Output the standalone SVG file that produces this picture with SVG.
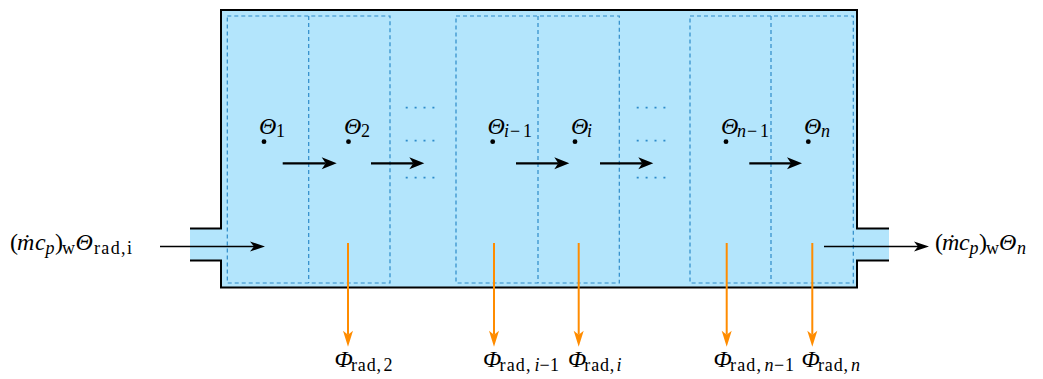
<svg xmlns="http://www.w3.org/2000/svg" width="1043" height="379" viewBox="0 0 1043 379">
<style>
.t{font-family:'Liberation Serif','DejaVu Serif',serif;font-size:24px;fill:#000}
.it{font-style:italic}
.s{font-size:18px}
.cell{fill:none;stroke:#2E8BC9;stroke-width:1.2;stroke-dasharray:4 3}
.dots{stroke:#2E8BC9;stroke-width:1.8;stroke-dasharray:2 6.9}
.flow{stroke:#000;stroke-width:2.2;fill:none}
.io{stroke:#000;stroke-width:1.5;fill:none}
.rad{stroke:#FF8C00;stroke-width:2;fill:none}
</style>
<defs>
<marker id="ab" markerUnits="userSpaceOnUse" markerWidth="20" markerHeight="14" refX="0" refY="0" orient="auto" overflow="visible"><path d="M-4,-6 L11,0 L-4,6 L0,0 Z" fill="#000"/></marker>
<marker id="ai" markerUnits="userSpaceOnUse" markerWidth="20" markerHeight="12" refX="0" refY="0" orient="auto" overflow="visible"><path d="M-4,-5 L11,0 L-4,5 L0,0 Z" fill="#000"/></marker>
<marker id="ao" markerUnits="userSpaceOnUse" markerWidth="20" markerHeight="12" refX="0" refY="0" orient="auto" overflow="visible"><path d="M-4,-5 L12,0 L-4,5 L0,0 Z" fill="#FF8C00"/></marker>
</defs>

<g id="tank">
<path d="M190,228.5 H221 V10 H857 V228.5 H889 V260.5 H857 V287.5 H221 V260.5 H190 Z" fill="#B3E5FC"/>
</g>

<g id="cells">
<rect class="cell" x="227.3" y="16" width="162.7" height="267"/>
<line class="cell" x1="308.7" y1="16" x2="308.7" y2="283"/>
<rect class="cell" x="456" y="16" width="163.3" height="267"/>
<line class="cell" x1="538" y1="16" x2="538" y2="283"/>
<rect class="cell" x="690" y="16" width="163.3" height="267"/>
<line class="cell" x1="771" y1="16" x2="771" y2="283"/>
</g>

<g id="ellipsis1">
<line class="dots" x1="405.7" y1="107.7" x2="434.5" y2="107.7"/>
<line class="dots" x1="405.7" y1="140.7" x2="434.5" y2="140.7"/>
<line class="dots" x1="405.7" y1="177.7" x2="434.5" y2="177.7"/>
</g>
<g id="ellipsis2">
<line class="dots" x1="636.7" y1="107.7" x2="665.5" y2="107.7"/>
<line class="dots" x1="636.7" y1="140.7" x2="665.5" y2="140.7"/>
<line class="dots" x1="636.7" y1="177.7" x2="665.5" y2="177.7"/>
</g>

<g id="outline">
<path d="M190,228.5 H221 V10 H857 V228.5 H889 M889,260.5 H857 V287.5 H221 V260.5 H190" fill="none" stroke="#000" stroke-width="2"/>
</g>

<g id="node1">
<circle cx="264" cy="141.7" r="2.4"/>
<text class="t"><tspan class="it" x="259" y="133.5">Θ</tspan><tspan class="s" x="276" y="137">1</tspan></text>
</g>
<g id="node2">
<circle cx="348.5" cy="141.7" r="2.4"/>
<text class="t"><tspan class="it" x="344" y="133.5">Θ</tspan><tspan class="s" x="361" y="137">2</tspan></text>
</g>
<g id="node-im1">
<circle cx="492.7" cy="141.7" r="2.4"/>
<text class="t"><tspan class="it" x="487.5" y="133.5">Θ</tspan><tspan class="s it" x="504" y="137">i</tspan><tspan class="s" x="510" y="137" textLength="22" lengthAdjust="spacing">−1</tspan></text>
</g>
<g id="node-i">
<circle cx="575" cy="141.7" r="2.4"/>
<text class="t"><tspan class="it" x="571" y="133.5">Θ</tspan><tspan class="s it" x="587" y="137">i</tspan></text>
</g>
<g id="node-nm1">
<circle cx="726" cy="141.7" r="2.4"/>
<text class="t"><tspan class="it" x="721" y="133.5">Θ</tspan><tspan class="s it" x="737" y="137">n</tspan><tspan class="s" x="747" y="137" textLength="22" lengthAdjust="spacing">−1</tspan></text>
</g>
<g id="node-n">
<circle cx="808.3" cy="141.7" r="2.4"/>
<text class="t"><tspan class="it" x="804" y="133.5">Θ</tspan><tspan class="s it" x="821" y="137">n</tspan></text>
</g>

<g id="inlet">
<text class="t"><tspan x="10" y="250">(</tspan><tspan class="it" x="17" y="250">ṁ</tspan><tspan class="it" x="35" y="250">c</tspan><tspan class="s it" x="45.5" y="254">p</tspan><tspan x="55" y="250">)</tspan><tspan class="s" x="62" y="254">w</tspan><tspan class="it" x="75.5" y="250">Θ</tspan><tspan class="s" x="94" y="254" textLength="38" lengthAdjust="spacing">rad,i</tspan></text>
</g>
<g id="outlet">
<text class="t"><tspan x="935" y="250">(</tspan><tspan class="it" x="942" y="250">ṁ</tspan><tspan class="it" x="959" y="250">c</tspan><tspan class="s it" x="969.5" y="254">p</tspan><tspan x="979" y="250">)</tspan><tspan class="s" x="986" y="254">w</tspan><tspan class="it" x="999" y="250">Θ</tspan><tspan class="s it" x="1017" y="254">n</tspan></text>
</g>

<g id="phi2">
<text class="t"><tspan class="it" x="334.5" y="366.7">Φ</tspan><tspan class="s" x="351" y="370.5" textLength="30" lengthAdjust="spacing">rad,</tspan><tspan class="s" x="383.5" y="370.5">2</tspan></text>
</g>
<g id="phi-im1">
<text class="t"><tspan class="it" x="483" y="366.7">Φ</tspan><tspan class="s" x="499.5" y="370.5" textLength="31" lengthAdjust="spacing">rad,</tspan><tspan class="s it" x="534.5" y="370.5">i</tspan><tspan class="s" x="539.5" y="370.5" textLength="19.5" lengthAdjust="spacing">−1</tspan></text>
</g>
<g id="phi-i">
<text class="t"><tspan class="it" x="568" y="366.7">Φ</tspan><tspan class="s" x="584.3" y="370.5" textLength="30" lengthAdjust="spacing">rad,</tspan><tspan class="s it" x="616.5" y="370.5">i</tspan></text>
</g>
<g id="phi-nm1">
<text class="t"><tspan class="it" x="713.5" y="366.7">Φ</tspan><tspan class="s" x="730" y="370.5" textLength="31" lengthAdjust="spacing">rad,</tspan><tspan class="s it" x="764.5" y="370.5">n</tspan><tspan class="s" x="774" y="370.5" textLength="20" lengthAdjust="spacing">−1</tspan></text>
</g>
<g id="phi-n">
<text class="t"><tspan class="it" x="801.5" y="366.7">Φ</tspan><tspan class="s" x="818" y="370.5" textLength="30" lengthAdjust="spacing">rad,</tspan><tspan class="s it" x="851" y="370.5">n</tspan></text>
</g>

<g id="connectors">
<line class="flow" x1="282.7" y1="163.3" x2="325.7" y2="163.3" marker-end="url(#ab)"/>
<line class="flow" x1="371" y1="163.3" x2="413.3" y2="163.3" marker-end="url(#ab)"/>
<line class="flow" x1="516" y1="163.3" x2="558.3" y2="163.3" marker-end="url(#ab)"/>
<line class="flow" x1="600" y1="163.3" x2="642.3" y2="163.3" marker-end="url(#ab)"/>
<line class="flow" x1="749.3" y1="163.3" x2="791" y2="163.3" marker-end="url(#ab)"/>
<line class="io" x1="160" y1="246.5" x2="254" y2="246.5" marker-end="url(#ai)"/>
<line class="io" x1="824" y1="246.5" x2="918" y2="246.5" marker-end="url(#ai)"/>
<line class="rad" x1="348" y1="243" x2="348" y2="334.7" marker-end="url(#ao)"/>
<line class="rad" x1="494" y1="243" x2="494" y2="334.7" marker-end="url(#ao)"/>
<line class="rad" x1="578.7" y1="243" x2="578.7" y2="334.7" marker-end="url(#ao)"/>
<line class="rad" x1="726.7" y1="243" x2="726.7" y2="334.7" marker-end="url(#ao)"/>
<line class="rad" x1="812.3" y1="243" x2="812.3" y2="334.7" marker-end="url(#ao)"/>
</g>
</svg>
